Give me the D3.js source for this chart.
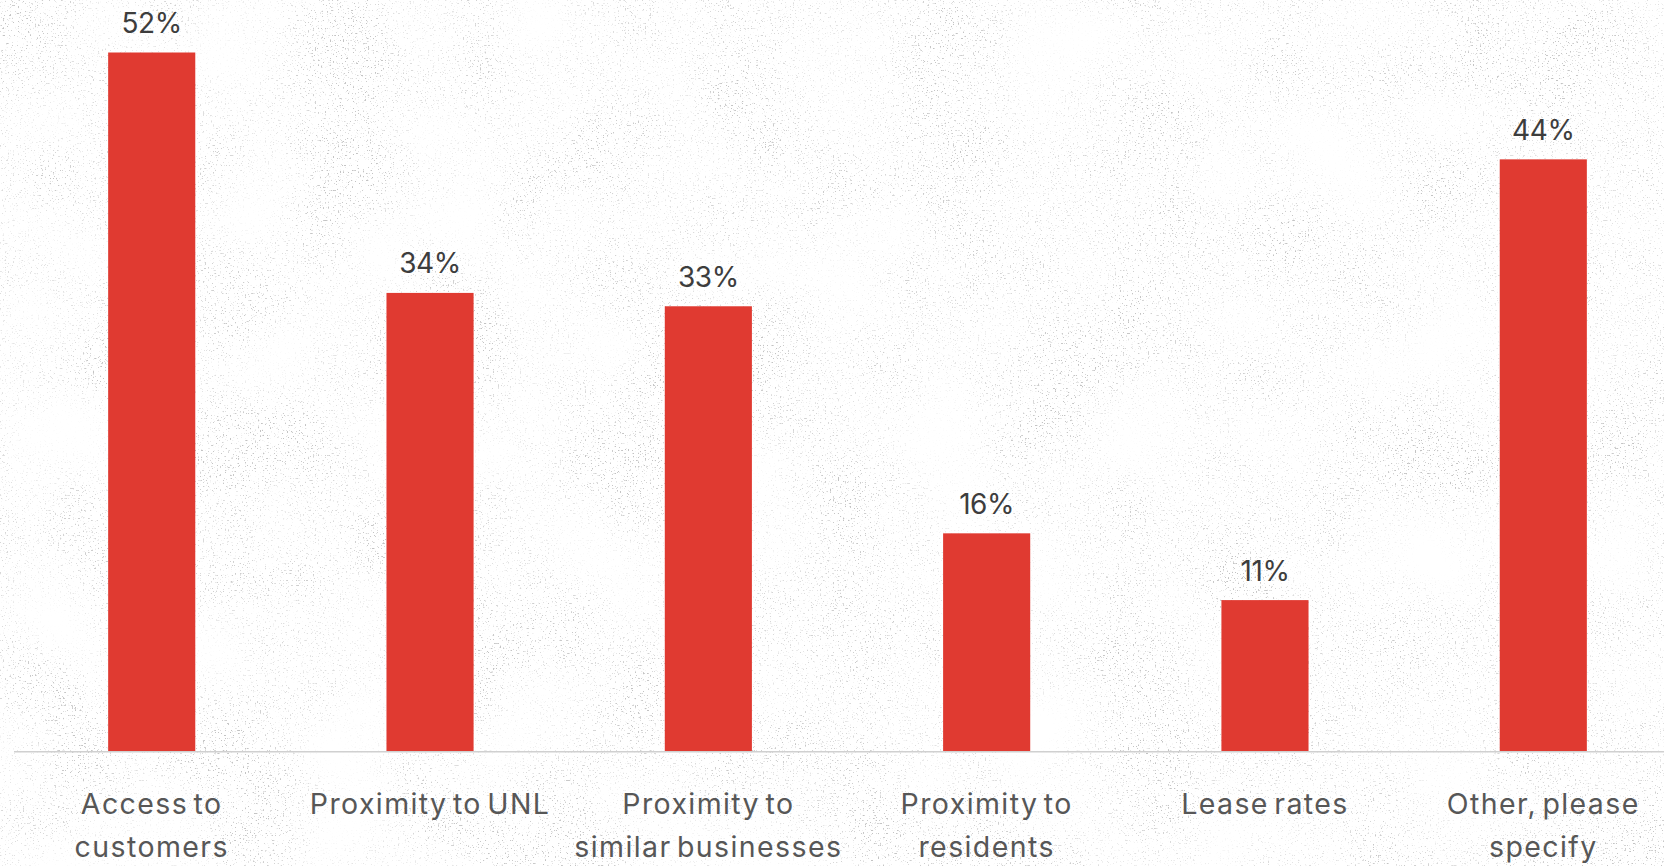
<!DOCTYPE html>
<html>
<head>
<meta charset="utf-8">
<script src="https://cdn.jsdelivr.net/npm/d3@7/dist/d3.min.js"></script>
<style>
  html, body { margin: 0; padding: 0; background: #ffffff; overflow: hidden; }
  svg { display: block; }
</style>
</head>
<body>
<svg id="chart" width="1664" height="866"></svg>
<script>
// ---- data ----
const categories = [
  "Access to\ncustomers",
  "Proximity to UNL",
  "Proximity to\nsimilar businesses",
  "Proximity to\nresidents",
  "Lease rates",
  "Other, please\nspecify"
];
const values = [52, 34, 33, 16, 11, 44];
const valueLabels = ["52%", "34%", "33%", "16%", "11%", "44%"];

// ---- layout ----
const W = 1664, H = 866;
const baseY = 751.7;
const svg = d3.select("#chart");

// background speckle texture (procedural, decorative)
const defs = svg.append("defs");
const f = defs.append("filter").attr("id", "speckle")
  .attr("x", 0).attr("y", 0).attr("width", W).attr("height", H)
  .attr("filterUnits", "userSpaceOnUse");
f.append("feTurbulence").attr("type", "fractalNoise").attr("baseFrequency", 0.6)
  .attr("numOctaves", 2).attr("seed", 11).attr("result", "n1");
f.append("feColorMatrix").attr("in", "n1").attr("type", "matrix")
  .attr("values", "0 0 0 0 0.4  0 0 0 0 0.4  0 0 0 0 0.4  1 0 0 0 0").attr("result", "c1");
const ct = f.append("feComponentTransfer").attr("in", "c1").attr("result", "specks");
ct.append("feFuncA").attr("type", "linear").attr("slope", 9).attr("intercept", -5.75);
f.append("feTurbulence").attr("type", "fractalNoise").attr("baseFrequency", 0.01)
  .attr("numOctaves", 2).attr("seed", 4).attr("result", "n2");
f.append("feColorMatrix").attr("in", "n2").attr("type", "matrix")
  .attr("values", "0 0 0 0 0  0 0 0 0 0  0 0 0 0 0  1.8 0 0 0 -0.3").attr("result", "mask");
f.append("feComposite").attr("in", "specks").attr("in2", "mask").attr("operator", "in");

svg.append("rect").attr("width", W).attr("height", H).attr("fill", "#ffffff");
svg.append("rect").attr("width", W).attr("height", H).attr("fill", "#fff")
  .attr("filter", "url(#speckle)").attr("opacity", 0.7);

const x = d3.scaleBand()
  .domain(categories)
  .range([-31, 1726])
  .paddingInner(0.687)
  .paddingOuter(0.5);

const y = d3.scaleLinear()
  .domain([-0.35, 52])
  .range([baseY, 52.5]);

const data = categories.map((c, i) => ({ c, v: values[i], label: valueLabels[i] }));

// bars
svg.append("g").selectAll("rect")
  .data(data).join("rect")
  .attr("x", d => x(d.c))
  .attr("width", x.bandwidth())
  .attr("y", d => y(d.v))
  .attr("height", d => baseY - y(d.v))
  .attr("fill", "#e03a31");

// baseline
svg.append("line")
  .attr("x1", 14).attr("x2", W)
  .attr("y1", baseY).attr("y2", baseY)
  .attr("stroke", "#d0d0d0").attr("stroke-width", 1.6);

// value labels
svg.append("g").selectAll("text")
  .data(data).join("text")
  .attr("x", d => x(d.c) + x.bandwidth() / 2)
  .attr("y", d => y(d.v) - 19.5)
  .attr("text-anchor", "middle")
  .attr("font-family", "Inter, 'Noto Sans', sans-serif")
  .attr("font-size", 28)
  .attr("fill", "#3d3d3d")
  .attr("letter-spacing", -0.4)
  .text(d => d.label);

// x axis labels
const axis = d3.axisBottom(x).tickSize(0).tickPadding(0);
const gx = svg.append("g").attr("transform", `translate(0,${baseY})`).call(axis);
gx.select(".domain").remove();
gx.selectAll(".tick text").each(function(d) {
  const t = d3.select(this);
  const lines = d.split("\n");
  t.text(null)
    .attr("y", 0).attr("dy", null)
    .attr("font-family", "Inter, 'Noto Sans', sans-serif")
    .attr("font-size", 28.5)
    .attr("fill", "#575757")
    .attr("letter-spacing", 1.4)
    .attr("word-spacing", -4);
  lines.forEach((ln, i) => {
    t.append("tspan").attr("x", 0).attr("y", 62.6 + i * 43).text(ln);
  });
});
</script>
</body>
</html>
